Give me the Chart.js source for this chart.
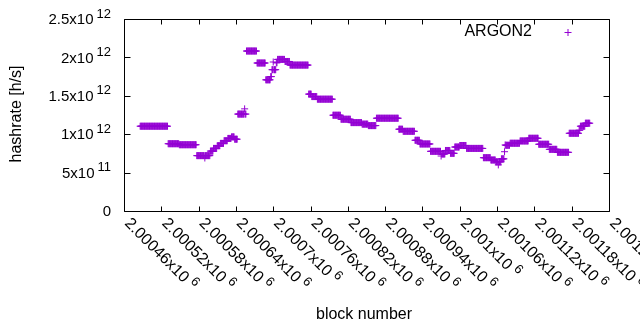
<!DOCTYPE html>
<html>
<head>
<meta charset="utf-8">
<script src="https://cdn.jsdelivr.net/npm/chart.js@4/dist/chart.umd.min.js"></script>
<style>
  html, body { margin: 0; padding: 0; background: #fff; }
  canvas { display: block; }
</style>
</head>
<body>
<canvas id="grafico" width="640" height="330"></canvas>
<script>
// runs of blocks with the same hashrate, rate in 10^12 h/s
var runStart = [486,531,549,577,590,591,599,604,610,615,621,627,633,638,643,654,655,657,674,688,696,698,700,701,705,707,719,727,757,762,771,796,809,825,843,853,866,902,909,928,936,953,970,971,977,985,992,1000,1011,1038,1050,1058,1062,1063,1067,1072,1073,1074,1081,1097,1111,1127,1144,1157,1176,1192,1194,1202];
var runEnd   = [530,548,576,589,590,598,603,609,614,620,626,632,637,642,653,654,656,673,687,695,697,699,700,704,706,718,726,756,761,770,795,808,824,842,852,865,901,908,927,935,952,969,970,976,984,991,999,1010,1037,1049,1057,1061,1062,1066,1071,1072,1073,1080,1096,1110,1126,1143,1156,1175,1191,1193,1201,1209];
var runRate  = [1.104,0.876,0.863,0.721,0.69,0.721,0.78,0.815,0.85,0.88,0.915,0.945,0.965,0.935,1.262,1.33,1.262,2.083,1.927,1.708,1.75,1.84,1.94,1.84,1.93,1.974,1.947,1.900,1.522,1.490,1.456,1.247,1.195,1.151,1.131,1.112,1.208,1.065,1.038,0.921,0.873,0.777,0.716,0.742,0.788,0.751,0.833,0.853,0.815,0.694,0.664,0.641,0.60,0.641,0.679,0.772,0.86,0.856,0.882,0.912,0.947,0.869,0.803,0.764,1.012,1.051,1.104,1.143];
var blockBase = 2000000;

var xTicks = [2000460,2000520,2000580,2000640,2000700,2000760,2000820,2000880,2000940,2001000,2001060,2001120,2001180,2001240];
var xTickText = ["2.00046x10","2.00052x10","2.00058x10","2.00064x10","2.0007x10","2.00076x10","2.00082x10","2.00088x10","2.00094x10","2.001x10","2.00106x10","2.00112x10","2.00118x10","2.00124x10"];
var yTicks = [0,5e11,1e12,1.5e12,2e12,2.5e12];
var yTickText = ["0","5x10","1x10","1.5x10","2x10","2.5x10"];
var yTickExp = ["","11","12","12","12","12"];

var pontos = [];
for (var i = 0; i < runStart.length; i++) {
  for (var b = runStart[i]; b <= runEnd[i]; b++) {
    pontos.push({x: blockBase + b, y: runRate[i] * 1e12});
  }
}

var roxo = '#9400d3';
var fonte = '"Liberation Sans", Arial, sans-serif';

// eixos estilo gnuplot desenhados a mao
var eixos = {
  id: 'eixos',
  afterDraw: function(chart) {
    var c = chart.ctx, a = chart.chartArea;
    var sx = chart.scales.x, sy = chart.scales.y;
    var L = Math.round(a.left) + 0.5, R = Math.round(a.right) + 0.5;
    var T = Math.round(a.top) + 0.5, B = Math.round(a.bottom) + 0.5;
    c.save();
    c.strokeStyle = '#000';
    c.lineWidth = 1;
    c.beginPath();
    c.rect(L, T, R - L, B - T);
    yTicks.forEach(function(v) {
      var p = Math.round(sy.getPixelForValue(v)) + 0.5;
      c.moveTo(L, p); c.lineTo(L + 6, p);
      c.moveTo(R, p); c.lineTo(R - 6, p);
    });
    xTicks.forEach(function(v) {
      var p = Math.round(sx.getPixelForValue(v)) + 0.5;
      c.moveTo(p, B); c.lineTo(p, B - 5);
      c.moveTo(p, T); c.lineTo(p, T + 5);
    });
    c.stroke();

    c.fillStyle = '#000';
    // y labels
    yTicks.forEach(function(v, i) {
      var p = sy.getPixelForValue(v);
      var xr = 111;
      c.font = '13px ' + fonte;
      var ew = yTickExp[i] ? c.measureText(yTickExp[i]).width : 0;
      c.textAlign = 'left';
      c.textBaseline = 'middle';
      if (yTickExp[i]) c.fillText(yTickExp[i], xr - ew, p - 5);
      c.font = '15px ' + fonte;
      c.textAlign = 'right';
      c.fillText(yTickText[i], xr - (ew ? ew + 3 : 0), p + 1);
    });
    // x labels, rotated -45 (clockwise) starting at the tick
    xTicks.forEach(function(v, i) {
      var p = sx.getPixelForValue(v);
      c.save();
      c.translate(p + 3, 221);
      c.rotate(Math.PI / 4);
      c.font = '16px ' + fonte;
      c.textAlign = 'left';
      c.textBaseline = 'middle';
      c.fillText(xTickText[i], 0, 0);
      var w = c.measureText(xTickText[i]).width;
      c.font = '13px ' + fonte;
      c.fillText('6', w + 4, -5);
      c.restore();
    });
    // titles
    c.font = '16px ' + fonte;
    c.textAlign = 'center';
    c.textBaseline = 'middle';
    c.fillText('block number', 364, 315);
    c.save();
    c.translate(17, 114);
    c.rotate(-Math.PI / 2);
    c.fillText('hashrate [h/s]', 0, 0);
    c.restore();
    // legenda
    c.textAlign = 'right';
    c.fillText('ARGON2', 532, 32);
    c.strokeStyle = roxo;
    c.beginPath();
    c.moveTo(564.5, 32.5); c.lineTo(571.5, 32.5);
    c.moveTo(568, 29); c.lineTo(568, 36);
    c.stroke();
    c.restore();
  }
};

var grafico = new Chart(document.getElementById('grafico'), {
  type: 'scatter',
  data: {
    datasets: [{
      label: 'ARGON2',
      data: pontos,
      showLine: false,
      pointStyle: 'cross',
      pointRadius: 3.5,
      pointHoverRadius: 3.5,
      pointBorderWidth: 1,
      borderColor: roxo,
      backgroundColor: roxo
    }]
  },
  options: {
    responsive: false,
    animation: false,
    devicePixelRatio: 1,
    layout: { padding: { left: 124, right: 31, top: 19, bottom: 119 } },
    plugins: { legend: { display: false }, tooltip: { enabled: false } },
    scales: {
      x: { type: 'linear', min: 2000460, max: 2001240, display: false },
      y: { type: 'linear', min: 0, max: 2.5e12, display: false }
    }
  },
  plugins: [eixos]
});
</script>
</body>
</html>
